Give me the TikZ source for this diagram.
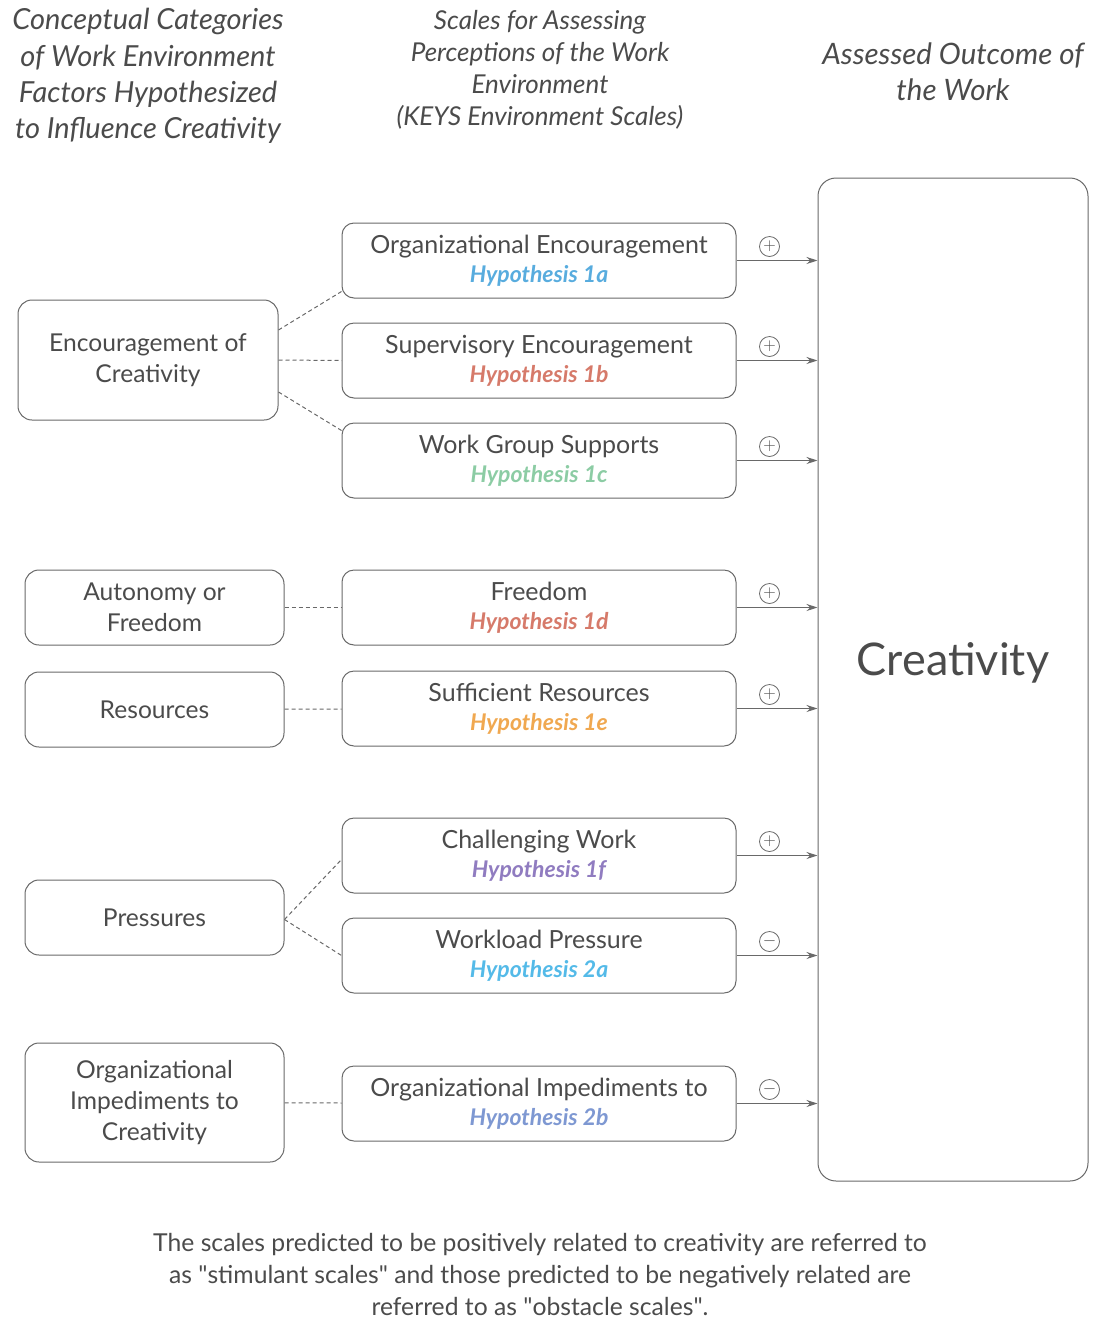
\documentclass[tikz,border=0pt]{standalone}
\usepackage{fontspec}
\setmainfont{Lato}
\usepackage{xcolor}
\definecolor{kgray}{RGB}{75,75,75}
\definecolor{kline}{RGB}{105,105,105}
\definecolor{hypblue}{RGB}{88,172,222}
\definecolor{hypsalmon}{RGB}{214,122,106}
\definecolor{hypgreen}{RGB}{140,204,164}
\definecolor{hyporange}{RGB}{240,168,80}
\definecolor{hyppurple}{RGB}{144,124,192}
\definecolor{hypcyan}{RGB}{84,186,232}
\definecolor{hypperi}{RGB}{126,152,210}
\usetikzlibrary{arrows.meta,positioning,calc}
\newcommand{\hyp}[2]{{\color{#1}\fontsize{23}{29}\selectfont\bfseries\itshape Hypothesis #2}}
\begin{document}
\begin{tikzpicture}[x=1pt,y=-1pt,
  catbox/.style={draw=kline,rounded corners=14pt,line width=1pt,minimum width=259pt,align=center,
    text=kgray,font=\fontsize{24.6}{31}\selectfont},
  scalebox/.style={draw=kline,rounded corners=12pt,line width=1pt,minimum width=394pt,minimum height=75pt,
    align=center,text=kgray,font=\fontsize{25}{29}\selectfont,inner sep=0pt},
  head/.style={align=center,text=kgray,font=\fontsize{29}{36.3}\selectfont\itshape},
  sign/.style={draw=kline,circle,line width=0.8pt,minimum size=20pt,inner sep=0pt,text=kgray,font=\fontsize{18}{18}\selectfont},
  dashlink/.style={kline,line width=1pt,dash pattern=on 4pt off 3pt},
  arr/.style={-{Stealth[length=11pt,width=7pt]},kline,line width=1pt}]
  \useasboundingbox (0,0) rectangle (1094,1318);
  % Headers
  \node[head] (h1) at (148,76) {Conceptual Categories\\of Work Environment\\Factors Hypothesized\\to Influence Creativity};
  \node[head,font=\fontsize{26}{32}\selectfont\itshape] (h2) at (540,70) {Scales for Assessing\\Perceptions of the Work\\Environment\\(KEYS Environment Scales)};
  \node[head,font=\fontsize{29.5}{36}\selectfont\itshape] (h3) at (953,72) {Assessed Outcome of\\the Work};
  % Outcome
  \node[draw=kline,rounded corners=18pt,line width=1pt,minimum width=270pt,minimum height=1003pt] (cr) at (953,679.5) {};
  \node[text=kgray,font=\fontsize{45}{45}\selectfont] (crtext) at (953,663) {Creativity};
  % Categories
  \node[catbox,minimum height=120pt,minimum width=260pt] (enc) at (148,360) {Encouragement of\\Creativity};
  \node[catbox,minimum height=75pt] (aut) at (154.5,607.5) {Autonomy or\\Freedom};
  \node[catbox,minimum height=75pt] (res) at (154.5,709.5) {Resources};
  \node[catbox,minimum height=75pt] (pre) at (154.5,917.5) {Pressures};
  \node[catbox,minimum height=119pt] (imp) at (154.5,1102.5) {Organizational\\Impediments to\\Creativity};
  % Scales
  \node[scalebox] (oe) at (539,260.5) {Organizational Encouragement\\\hyp{hypblue}{1a}};
  \node[scalebox] (se) at (539,360.5) {Supervisory Encouragement\\\hyp{hypsalmon}{1b}};
  \node[scalebox] (wg) at (539,460.5) {Work Group Supports\\\hyp{hypgreen}{1c}};
  \node[scalebox] (fr) at (539,607.5) {Freedom\\\hyp{hypsalmon}{1d}};
  \node[scalebox] (sr) at (539,708.5) {Sufficient Resources\\\hyp{hyporange}{1e}};
  \node[scalebox] (cw) at (539,855.5) {Challenging Work\\\hyp{hyppurple}{1f}};
  \node[scalebox] (wp) at (539,955.5) {Workload Pressure\\\hyp{hypcyan}{2a}};
  \node[scalebox] (oi) at (539,1103.5) {Organizational Impediments to\\\hyp{hypperi}{2b}};
  % Dashed links
  \draw[dashlink] ([yshift=30]enc.east) -- ([yshift=7]oe.south west);
  \draw[dashlink] (enc.east) -- (se.west);
  \draw[dashlink] ([yshift=-32]enc.east) -- ([yshift=-8]wg.north west);
  \draw[dashlink] (aut) -- (fr);
  \draw[dashlink] (res) -- (sr);
  \draw[dashlink] ([yshift=-2]pre.east) -- ([yshift=-4]cw.west);
  \draw[dashlink] ([yshift=-2]pre.east) -- (wp.west);
  \draw[dashlink] (imp) -- (oi);
  % Arrows and signs
  \foreach \s/\m in {oe/+,se/+,wg/+,fr/+,sr/+,cw/+,wp/-,oi/-}{
    \draw[arr] (\s.east) -- (\s.east -| cr.west);
    \node[sign] (sg-\s) at ([xshift=33,yshift=14]\s.east) {$\m$};
  }
  % Note
  \node[align=center,text=kgray,font=\fontsize{24.7}{32}\selectfont] (note) at (540,1274)
    {The scales predicted to be positively related to creativity are referred to\\as \textquotedbl stimulant scales\textquotedbl{} and those predicted to be negatively related are\\referred to as \textquotedbl obstacle scales\textquotedbl.};
\end{tikzpicture}
\end{document}
